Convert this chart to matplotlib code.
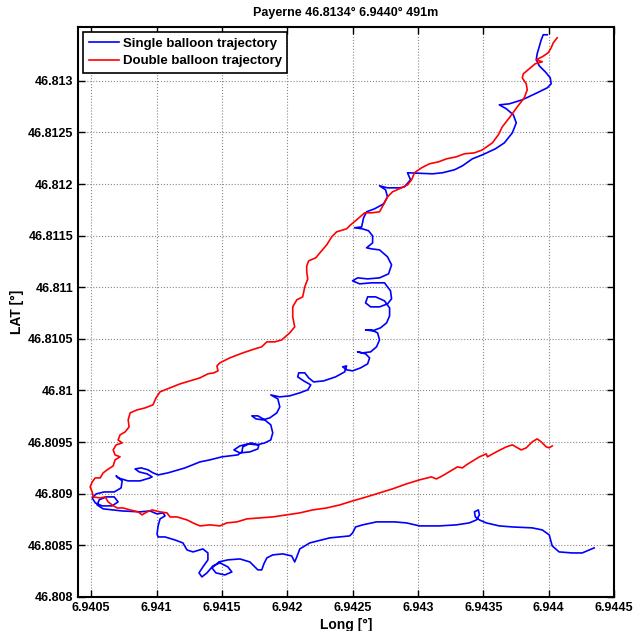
import matplotlib
matplotlib.use("Agg")
import matplotlib.pyplot as plt

plt.rcParams['font.family'] = ['Liberation Sans', 'DejaVu Sans']
plt.rcParams['font.weight'] = 'bold'

# single balloon trajectory (lon, lat)
single_lon = [6.943989, 6.943958, 6.943943, 6.943928, 6.943912, 6.943905, 6.943928, 6.943974, 6.944012, 6.944019,
              6.943989, 6.943912, 6.943798, 6.943699, 6.943622, 6.943676, 6.943729, 6.943752, 6.943722, 6.943661,
              6.943592, 6.943493, 6.943416, 6.943340, 6.943279, 6.943187, 6.943111, 6.942920, 6.942943, 6.942897,
              6.942859, 6.942767, 6.942706, 6.942752, 6.942767, 6.942737, 6.942668, 6.942607, 6.942584, 6.942569,
              6.942515, 6.942576, 6.942622, 6.942653, 6.942653, 6.942607, 6.942645, 6.942706, 6.942767, 6.942798,
              6.942775, 6.942706, 6.942615, 6.942538, 6.942500, 6.942554, 6.942645, 6.942744, 6.942790, 6.942798,
              6.942767, 6.942706, 6.942638, 6.942599, 6.942615, 6.942676, 6.942744, 6.942783, 6.942783, 6.942760,
              6.942714, 6.942653, 6.942599, 6.942645, 6.942691, 6.942706, 6.942683, 6.942638, 6.942576, 6.942538,
              6.942599, 6.942630, 6.942615, 6.942561, 6.942500, 6.942454, 6.942424, 6.942454, 6.942439, 6.942370,
              6.942279, 6.942202, 6.942164, 6.942134, 6.942088, 6.942080, 6.942126, 6.942180, 6.942157, 6.942096,
              6.942019, 6.941943, 6.941874, 6.941928, 6.941943, 6.941920, 6.941867, 6.941813, 6.941760, 6.941729,
              6.941775, 6.941828, 6.941874, 6.941889, 6.941874, 6.941828, 6.941767, 6.941699, 6.941638, 6.941592,
              6.941638, 6.941714, 6.941775, 6.941783, 6.941722, 6.941660, 6.941653, 6.941622, 6.941561, 6.941500,
              6.941409, 6.941332, 6.941218, 6.941088, 6.941012, 6.940973, 6.940935, 6.940882, 6.940836, 6.940867,
              6.940928, 6.940966, 6.940950, 6.940874, 6.940782, 6.940706, 6.940691, 6.940737, 6.940729, 6.940676,
              6.940599, 6.940538, 6.940508, 6.940531, 6.940584, 6.940660, 6.940706, 6.940676, 6.940615, 6.940561,
              6.940546, 6.940592, 6.940668, 6.940737, 6.940874, 6.940950, 6.941004, 6.941050, 6.941065, 6.941027,
              6.941012, 6.941004, 6.941012, 6.941065, 6.941141, 6.941202, 6.941233, 6.941279, 6.941355, 6.941393,
              6.941393, 6.941355, 6.941325, 6.941347, 6.941386, 6.941431, 6.941485, 6.941546, 6.941576, 6.941523,
              6.941454, 6.941424, 6.941477, 6.941546, 6.941638, 6.941714, 6.941752, 6.941775, 6.941805, 6.941821,
              6.941844, 6.941889, 6.941966, 6.942034, 6.942057, 6.942073, 6.942096, 6.942172, 6.942325, 6.942477,
              6.942500, 6.942523, 6.942577, 6.942683, 6.942821, 6.942912, 6.943012, 6.943164, 6.943294, 6.943393,
              6.943447, 6.943470, 6.943462, 6.943432, 6.943439, 6.943470, 6.943523, 6.943622, 6.943722, 6.943874,
              6.943951, 6.944004, 6.944027, 6.944080, 6.944180, 6.944256, 6.944348]
single_lat = [46.813446, 46.813446, 46.813397, 46.813330, 46.813262, 46.813204, 46.813145, 46.813087, 46.813029, 46.812971,
              46.812932, 46.812884, 46.812816, 46.812777, 46.812767, 46.812729, 46.812671, 46.812593, 46.812496, 46.812399,
              46.812341, 46.812283, 46.812244, 46.812176, 46.812138, 46.812109, 46.812099, 46.812109, 46.812041, 46.811973,
              46.811963, 46.811963, 46.811983, 46.811944, 46.811876, 46.811808, 46.811760, 46.811731, 46.811673, 46.811585,
              46.811576, 46.811566, 46.811547, 46.811498, 46.811430, 46.811382, 46.811372, 46.811362, 46.811295, 46.811217,
              46.811130, 46.811091, 46.811081, 46.811091, 46.811062, 46.811033, 46.811043, 46.811043, 46.810965, 46.810888,
              46.810839, 46.810810, 46.810810, 46.810849, 46.810907, 46.810907, 46.810868, 46.810800, 46.810723, 46.810655,
              46.810607, 46.810578, 46.810587, 46.810587, 46.810558, 46.810490, 46.810423, 46.810374, 46.810364, 46.810374,
              46.810355, 46.810316, 46.810258, 46.810219, 46.810190, 46.810200, 46.810229, 46.810238, 46.810180, 46.810132,
              46.810093, 46.810083, 46.810122, 46.810171, 46.810171, 46.810132, 46.810093, 46.810054, 46.810006, 46.809977,
              46.809948, 46.809938, 46.809957, 46.809919, 46.809841, 46.809783, 46.809735, 46.809715, 46.809725, 46.809754,
              46.809754, 46.809715, 46.809667, 46.809589, 46.809521, 46.809492, 46.809473, 46.809483, 46.809463, 46.809424,
              46.809395, 46.809405, 46.809434, 46.809473, 46.809492, 46.809454, 46.809405, 46.809376, 46.809366, 46.809357,
              46.809328, 46.809308, 46.809250, 46.809202, 46.809182, 46.809202, 46.809231, 46.809250, 46.809240, 46.809211,
              46.809192, 46.809163, 46.809153, 46.809124, 46.809124, 46.809153, 46.809173, 46.809124, 46.809056, 46.809017,
              46.809017, 46.808998, 46.808959, 46.808911, 46.808882, 46.808882, 46.808921, 46.808969, 46.808969, 46.808940,
              46.808891, 46.808853, 46.808843, 46.808833, 46.808824, 46.808833, 46.808804, 46.808814, 46.808785, 46.808756,
              46.808688, 46.808610, 46.808581, 46.808581, 46.808552, 46.808523, 46.808455, 46.808436, 46.808465, 46.808426,
              46.808359, 46.808291, 46.808233, 46.808194, 46.808233, 46.808300, 46.808330, 46.808291, 46.808242, 46.808213,
              46.808233, 46.808281, 46.808339, 46.808359, 46.808368, 46.808339, 46.808291, 46.808262, 46.808262, 46.808320,
              46.808378, 46.808407, 46.808417, 46.808397, 46.808339, 46.808388, 46.808465, 46.808523, 46.808572, 46.808591,
              46.808620, 46.808678, 46.808698, 46.808727, 46.808727, 46.808717, 46.808688, 46.808688, 46.808698, 46.808717,
              46.808746, 46.808795, 46.808843, 46.808824, 46.808775, 46.808746, 46.808717, 46.808688, 46.808678, 46.808669,
              46.808649, 46.808601, 46.808494, 46.808436, 46.808426, 46.808426, 46.808475]

# double balloon trajectory (lon, lat)
double_lon = [6.944065, 6.944035, 6.944019, 6.943996, 6.943951, 6.943905, 6.943951, 6.943897, 6.943851, 6.943806,
              6.943798, 6.943828, 6.943836, 6.943813, 6.943760, 6.943699, 6.943645, 6.943615, 6.943569, 6.943493,
              6.943432, 6.943355, 6.943294, 6.943218, 6.943157, 6.943088, 6.943027, 6.942973, 6.942951, 6.942920,
              6.942874, 6.942806, 6.942767, 6.942744, 6.942706, 6.942645, 6.942592, 6.942531, 6.942485, 6.942454,
              6.942378, 6.942340, 6.942302, 6.942256, 6.942218, 6.942164, 6.942149, 6.942149, 6.942157, 6.942134,
              6.942118, 6.942073, 6.942042, 6.942042, 6.942057, 6.942019, 6.941958, 6.941905, 6.941844, 6.941805,
              6.941752, 6.941660, 6.941561, 6.941485, 6.941462, 6.941470, 6.941439, 6.941393, 6.941332, 6.941180,
              6.941027, 6.940996, 6.940973, 6.940912, 6.940851, 6.940798, 6.940783, 6.940790, 6.940760, 6.940721,
              6.940706, 6.940737, 6.940691, 6.940668, 6.940683, 6.940721, 6.940683, 6.940668, 6.940622, 6.940592,
              6.940569, 6.940531, 6.940508, 6.940492, 6.940508, 6.940515, 6.940569, 6.940607, 6.940630, 6.940660,
              6.940698, 6.940744, 6.940798, 6.940859, 6.940889, 6.940928, 6.940966, 6.941027, 6.941080, 6.941103,
              6.941157, 6.941180, 6.941233, 6.941279, 6.941332, 6.941409, 6.941485, 6.941538, 6.941615, 6.941691,
              6.941790, 6.941889, 6.941996, 6.942096, 6.942195, 6.942302, 6.942401, 6.942500, 6.942607, 6.942706,
              6.942806, 6.942912, 6.943012, 6.943103, 6.943141, 6.943187, 6.943264, 6.943302, 6.943340, 6.943370,
              6.943470, 6.943523, 6.943531, 6.943599, 6.943676, 6.943722, 6.943790, 6.943828, 6.943874, 6.943912,
              6.943943, 6.943981, 6.944004, 6.944027]
double_lat = [46.813417, 46.813368, 46.813320, 46.813271, 46.813233, 46.813204, 46.813184, 46.813165, 46.813116, 46.813068,
              46.813029, 46.812971, 46.812913, 46.812835, 46.812748, 46.812642, 46.812554, 46.812477, 46.812399, 46.812331,
              46.812302, 46.812293, 46.812264, 46.812244, 46.812215, 46.812196, 46.812157, 46.812109, 46.812041, 46.811992,
              46.811963, 46.811925, 46.811876, 46.811818, 46.811731, 46.811721, 46.811721, 46.811653, 46.811605, 46.811566,
              46.811537, 46.811488, 46.811411, 46.811343, 46.811285, 46.811256, 46.811207, 46.811149, 46.811081, 46.811004,
              46.810907, 46.810878, 46.810810, 46.810713, 46.810616, 46.810558, 46.810490, 46.810471, 46.810471, 46.810423,
              46.810403, 46.810364, 46.810316, 46.810268, 46.810238, 46.810190, 46.810171, 46.810161, 46.810122, 46.810064,
              46.809987, 46.809928, 46.809861, 46.809831, 46.809812, 46.809783, 46.809715, 46.809647, 46.809599, 46.809570,
              46.809521, 46.809492, 46.809473, 46.809424, 46.809376, 46.809357, 46.809328, 46.809269, 46.809231, 46.809202,
              46.809153, 46.809153, 46.809114, 46.809066, 46.809017, 46.808969, 46.808959, 46.808969, 46.808921, 46.808891,
              46.808862, 46.808862, 46.808843, 46.808824, 46.808795, 46.808824, 46.808843, 46.808824, 46.808814, 46.808775,
              46.808775, 46.808766, 46.808746, 46.808717, 46.808688, 46.808698, 46.808688, 46.808717, 46.808727, 46.808756,
              46.808766, 46.808775, 46.808795, 46.808814, 46.808843, 46.808862, 46.808891, 46.808930, 46.808969, 46.809008,
              46.809047, 46.809095, 46.809134, 46.809163, 46.809143, 46.809173, 46.809231, 46.809260, 46.809250, 46.809279,
              46.809357, 46.809386, 46.809357, 46.809405, 46.809454, 46.809473, 46.809424, 46.809444, 46.809502, 46.809531,
              46.809502, 46.809454, 46.809444, 46.809463]

xticks = [6.9405, 6.941, 6.9415, 6.942, 6.9425, 6.943, 6.9435, 6.944, 6.9445]
xticklabels = ['6.9405', '6.941', '6.9415', '6.942', '6.9425', '6.943', '6.9435', '6.944', '6.9445']
yticks = [46.808, 46.8085, 46.809, 46.8095, 46.81, 46.8105, 46.811, 46.8115, 46.812, 46.8125, 46.813]
yticklabels = ['46.808', '46.8085', '46.809', '46.8095', '46.81', '46.8105', '46.811', '46.8115', '46.812', '46.8125', '46.813']

fig = plt.figure(figsize=(6.35, 6.31), dpi=100)
ax = fig.add_axes([0.123, 0.054, 0.844, 0.903])

ax.plot(single_lon, single_lat, '-', color='blue', lw=1.2, label='Single balloon trajectory')
ax.plot(double_lon, double_lat, '-', color='red', lw=1.2, label='Double balloon trajectory')

ax.set_xlim(6.9404, 6.9445)
ax.set_ylim(46.808, 46.81352)
ax.set_xticks(xticks)
ax.set_xticklabels(xticklabels)
ax.set_yticks(yticks)
ax.set_yticklabels(yticklabels)
ax.tick_params(direction='in', top=True, right=True, length=5, width=1, labelsize=9)
for lab in ax.get_xticklabels() + ax.get_yticklabels():
    lab.set_fontweight('bold')
ax.grid(True, linestyle=':', color='#888888', lw=0.8)
for s in ax.spines.values():
    s.set_linewidth(1.5)

ax.set_xlabel('Long [°]', fontsize=10, fontweight='bold', labelpad=3)
ax.set_ylabel('LAT [°]', fontsize=10, fontweight='bold', labelpad=3)
ax.set_title('Payerne 46.8134° 6.9440° 491m', fontsize=9, fontweight='bold', pad=8)

leg = ax.legend(loc='upper left', fontsize=9.5, fancybox=False, framealpha=1, edgecolor='black',
                borderpad=0.4, handlelength=2.3, handletextpad=0.3, labelspacing=0.4,
                borderaxespad=0.4)
leg.get_frame().set_linewidth(1.2)
for t in leg.get_texts():
    t.set_fontweight('bold')

fig.savefig('out.png', dpi=100, facecolor='white')
